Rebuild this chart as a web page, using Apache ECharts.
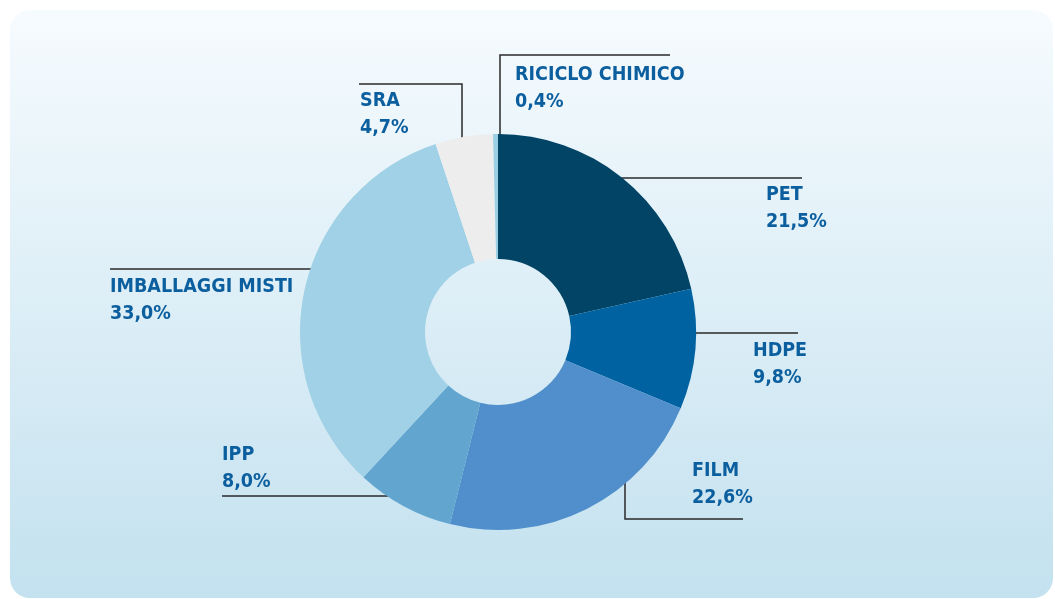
<!DOCTYPE html>
<html>
<head>
<meta charset="utf-8">
<script src="https://cdn.jsdelivr.net/npm/echarts@6/dist/echarts.min.js"></script>
<style>
html,body{margin:0;padding:0;background:#ffffff;}
#chart{width:1055px;height:599px;}
</style>
</head>
<body>
<div id="chart"></div>
<script>
// ---- data ----
const categories = ['PET', 'HDPE', 'FILM', 'IPP', 'IMBALLAGGI MISTI', 'SRA', 'RICICLO CHIMICO'];
const values = [21.5, 9.8, 22.6, 8.0, 33.0, 4.7, 0.4];

// ---- styles / layout ----
const colors = ['#014466', '#0062a0', '#508fcb', '#62a6d0', '#a0d1e6', '#ededed', '#9ccfe4'];
const textColor = '#0c5f9e';
const fontFamily = "'DejaVu Sans Condensed', 'Roboto', sans-serif";
const CX = 498, CY = 332, R_OUT = 198, R_IN = 73;
// leader line layout for each slice (pixel layout, not data)
const leaderLayout = [
  {type: 'h', lineY: 178, x2: 802, lx: 766, ly: 181.5, va: 'top'},
  {type: 'h', lineY: 333, x2: 798, lx: 753, ly: 337.5, va: 'top'},
  {type: 'v', lineX: 625, y2: 519, x2: 743, lx: 692, ly: 511.5, va: 'bottom'},
  {type: 'h', lineY: 496, x2: 222, lx: 222, ly: 495, va: 'bottom'},
  {type: 'h', lineY: 269, x2: 110, lx: 110, ly: 273.5, va: 'top'},
  {type: 'v', lineX: 462, y2: 84, x2: 359, lx: 360, ly: 87.5, va: 'top'},
  {type: 'v', lineX: 500, y2: 55, x2: 670, lx: 515, ly: 61.5, va: 'top'}
];

function fmt(v) { return v.toFixed(1).replace('.', ',') + '%'; }

const chart = echarts.init(document.getElementById('chart'), null, {renderer: 'canvas'});

const option = {
  animation: false,
  graphic: [{
    type: 'rect',
    z: -10,
    silent: true,
    shape: {x: 10, y: 10, width: 1043, height: 588, r: 20},
    style: {
      fill: new echarts.graphic.LinearGradient(0, 0, 0, 1, [
        {offset: 0, color: '#f6fbfe'},
        {offset: 1, color: '#c3e1ef'}
      ])
    }
  }],
  series: [{
    type: 'pie',
    center: [CX, CY],
    radius: [R_IN, R_OUT],
    startAngle: 90,
    clockwise: true,
    avoidLabelOverlap: false,
    minAngle: 0,
    itemStyle: {borderWidth: 0},
    emphasis: {disabled: true},
    data: categories.map((c, i) => ({name: c, value: values[i], itemStyle: {color: colors[i]}})),
    label: {
      show: true,
      position: 'outside',
      formatter: p => '{n|' + p.name + '}\n{v|' + fmt(p.value) + '}',
      align: 'left',
      rich: {
        n: {fontSize: 19.5, lineHeight: 27, fontWeight: 'bold', color: textColor, fontFamily: fontFamily, align: 'left'},
        v: {fontSize: 19.5, lineHeight: 27, fontWeight: 'bold', color: textColor, fontFamily: fontFamily, align: 'left'}
      }
    },
    labelLine: {
      show: true,
      smooth: false,
      length: 10,
      length2: 10,
      lineStyle: {color: '#2a2a2a', width: 1.5}
    },
    labelLayout: function (params) {
      const L = leaderLayout[params.dataIndex];
      let pts;
      if (L.type === 'h') {
        const s = L.x2 > CX ? 1 : -1;
        const dy = L.lineY - CY;
        const x1 = CX + s * Math.sqrt(Math.max(0, R_OUT * R_OUT - dy * dy)) - s * 1;
        pts = [[x1, L.lineY], [(x1 + L.x2) / 2, L.lineY], [L.x2, L.lineY]];
      } else {
        const s = L.y2 > CY ? 1 : -1;
        const dx = L.lineX - CX;
        const y1 = CY + s * Math.sqrt(Math.max(0, R_OUT * R_OUT - dx * dx)) - s * 1;
        pts = [[L.lineX, y1], [L.lineX, L.y2], [L.x2, L.y2]];
      }
      return {
        x: L.lx,
        y: L.ly,
        align: 'left',
        verticalAlign: L.va,
        labelLinePoints: pts
      };
    }
  }]
};
chart.setOption(option);
</script>
</body>
</html>
